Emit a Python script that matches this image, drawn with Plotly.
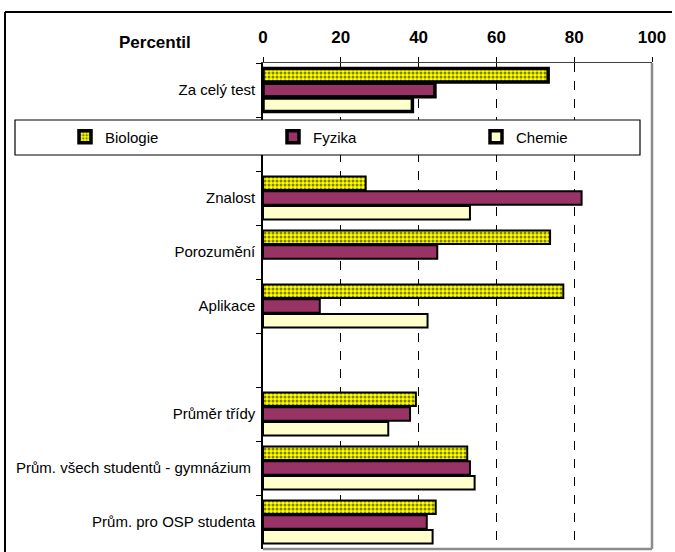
import plotly.graph_objects as go

categories = ["Za celý test", " ", "Znalost", "Porozumění", "Aplikace", "  ",
              "Průměr třídy", "Prům. všech studentů - gymnázium ", "Prům. pro OSP studenta"]
biologie = [73.3, None, 26.4, 73.8, 77.2, None, 39.3, 52.5, 44.4]
fyzika = [44.2, None, 81.9, 44.8, 14.6, None, 37.8, 53.2, 42.1]
chemie = [38.4, None, 53.2, None, 42.3, None, 32.2, 54.4, 43.6]
x_ticks = [0, 20, 40, 60, 80, 100]

line_w = [3.5 if c == "Za celý test" else 2 for c in categories]

fig = go.Figure()
fig.add_trace(go.Bar(
    name="Biologie", y=categories, x=biologie, orientation="h", legend="legend",
    marker=dict(color="#FFFF00", line=dict(color="black", width=line_w),
                pattern=dict(shape=".", fgcolor="black", bgcolor="#FFFF00",
                             size=4, solidity=0.45, fillmode="overlay")),
))
fig.add_trace(go.Bar(
    name="Fyzika", y=categories, x=fyzika, orientation="h", legend="legend2",
    marker=dict(color="#993366", line=dict(color="black", width=line_w)),
))
fig.add_trace(go.Bar(
    name="Chemie", y=categories, x=chemie, orientation="h", legend="legend3",
    marker=dict(color="#FFFFCC", line=dict(color="black", width=line_w)),
))

W, H = 675, 552
L, R, T, B = 263, 23, 63, 3
pw, ph = W - L - R, H - T - B

def px_x(p):
    return (p - L) / pw

def px_y(p):
    return (H - B - p) / ph

def leg(xpx):
    return dict(orientation="h", x=px_x(xpx), xanchor="left", y=px_y(137), yanchor="middle",
                bgcolor="rgba(0,0,0,0)", borderwidth=0, font=dict(size=15))

fig.update_layout(
    width=W, height=H,
    margin=dict(l=L, r=R, t=T, b=B),
    paper_bgcolor="white", plot_bgcolor="white",
    barmode="group", bargap=0.18, bargroupgap=0.1,
    font=dict(family="Liberation Sans, Arial, sans-serif", color="black", size=15),
    showlegend=True,
    legend=leg(65), legend2=leg(273), legend3=leg(476),
    xaxis=dict(side="top", range=[0, 100], tickvals=x_ticks,
               tickfont=dict(size=17, family="Liberation Sans, Arial, sans-serif", weight="bold"),
               ticks="outside", ticklen=5, tickcolor="black", ticklabelstandoff=7,
               showline=True, linecolor="#404040", linewidth=1,
               showgrid=True, gridcolor="black", griddash="dash", gridwidth=1,
               zeroline=False, fixedrange=True),
    yaxis=dict(type="category", categoryorder="array", categoryarray=categories,
               autorange="reversed", tickson="boundaries",
               ticks="outside", ticklen=5, tickcolor="black",
               showline=True, linecolor="black", linewidth=1.5,
               showgrid=False, zeroline=False, tickfont=dict(size=15),
               ticklabelstandoff=3),
    shapes=[
        dict(type="rect", xref="paper", yref="paper",
             x0=px_x(15), x1=px_x(640), y0=px_y(155), y1=px_y(120),
             fillcolor="white", line=dict(color="black", width=1.2), layer="above"),
        dict(type="line", xref="paper", yref="paper", x0=1, x1=1, y0=0, y1=1,
             line=dict(color="#8c8c8c", width=2.5), layer="above"),
        dict(type="line", xref="paper", yref="paper", x0=0, x1=1, y0=0, y1=0,
             line=dict(color="#8c8c8c", width=2.5), layer="above"),
        dict(type="line", xref="paper", yref="paper",
             x0=px_x(5), x1=px_x(672), y0=px_y(12), y1=px_y(12),
             line=dict(color="black", width=2), layer="above"),
        dict(type="line", xref="paper", yref="paper",
             x0=px_x(5), x1=px_x(5), y0=px_y(12), y1=px_y(580),
             line=dict(color="black", width=2), layer="above"),
    ],
    annotations=[
        dict(text="<b>Percentil</b>", xref="paper", yref="paper",
             x=px_x(155), y=px_y(43), showarrow=False, xanchor="center", yanchor="middle",
             font=dict(size=17)),
    ],
)

fig.write_html("out.html", config={"displayModeBar": False},
               post_script=("document.documentElement.style.margin='0';"
                            "document.documentElement.style.overflow='hidden';"
                            "document.body.style.margin='0';"
                            "document.body.style.overflow='hidden';"))
